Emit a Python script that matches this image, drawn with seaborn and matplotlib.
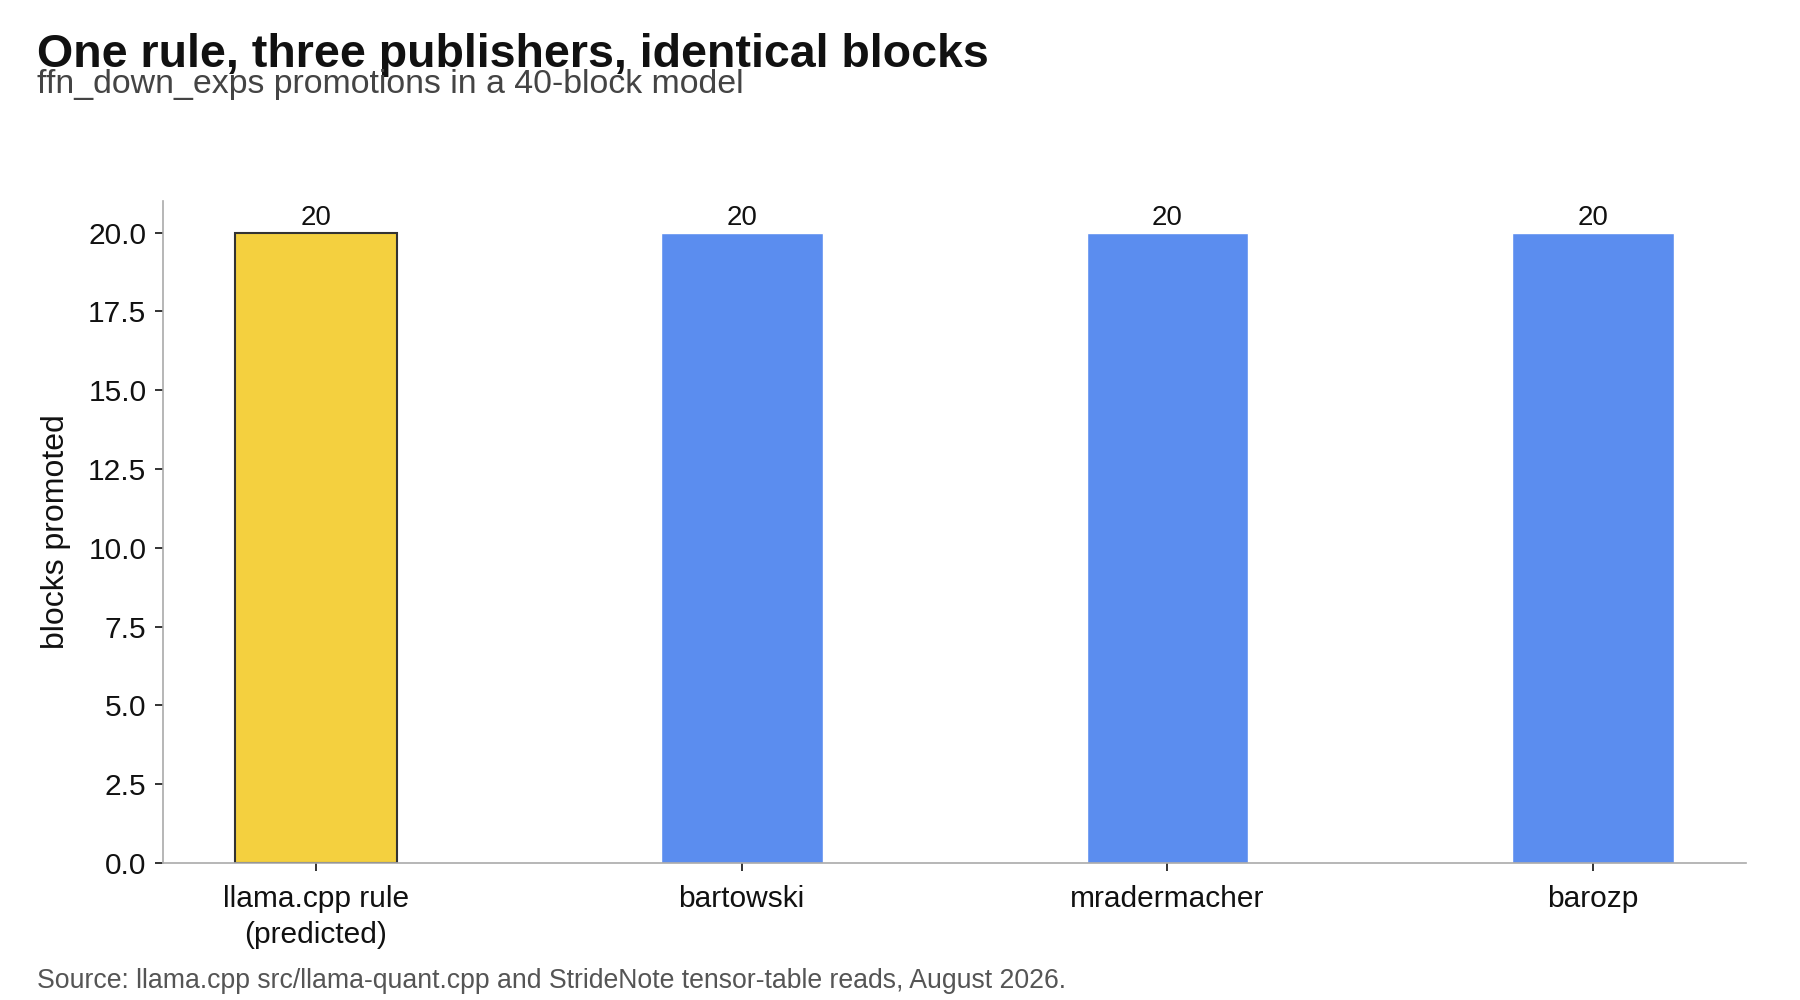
import matplotlib
matplotlib.use('Agg')
import matplotlib.pyplot as plt
import seaborn as sns
import pandas as pd

# 数据
categories = ['llama.cpp rule\n(predicted)', 'bartowski', 'mradermacher', 'barozp']
blocks_promoted = [20, 20, 20, 20]
bar_colors = ['#F4D03F', '#5B8DEF', '#5B8DEF', '#5B8DEF']

df = pd.DataFrame({'source': categories, 'blocks': blocks_promoted})

sns.set_theme(style='white')
plt.rcParams['font.family'] = ['Liberation Sans', 'DejaVu Sans']

fig = plt.figure(figsize=(18, 10), dpi=100)
ax = fig.add_axes([0.0906, 0.137, 0.8794, 0.662])

bar_w = 0.38
sns.barplot(data=df, x='source', y='blocks', hue='source',
            palette=bar_colors, width=bar_w, legend=False, ax=ax, saturation=1)

# 第一根柱子加深色描边
ax.patches[0].set_edgecolor('#333333')
ax.patches[0].set_linewidth(1.5)

for c in ax.containers:
    ax.bar_label(c, fmt='%d', fontsize=20, padding=1, color='#111111')

# x 方向留 5% 边距（matplotlib 默认样式）
span = (len(categories) - 1) + bar_w
ax.set_xlim(-bar_w / 2 - 0.05 * span, len(categories) - 1 + bar_w / 2 + 0.05 * span)
ax.set_ylim(0, 21)

ax.set_yticks([0, 2.5, 5, 7.5, 10, 12.5, 15, 17.5, 20])
ax.set_yticklabels([f'{v:.1f}' for v in ax.get_yticks()])
ax.tick_params(axis='both', labelsize=21.5, colors='#111111', length=6, width=1.2,
               left=True, bottom=True, pad=6)
ax.tick_params(axis='x', pad=10)
for lbl in ax.get_xticklabels():
    lbl.set_linespacing(1.35)
ax.set_xlabel('')
ax.set_ylabel('blocks promoted', fontsize=23, color='#111111', labelpad=12)

sns.despine(ax=ax)
for s in ['left', 'bottom']:
    ax.spines[s].set_color('#aaaaaa')
    ax.spines[s].set_linewidth(1.2)

fig.text(0.0205, 0.945, 'One rule, three publishers, identical blocks',
         fontsize=33.5, fontweight='bold', color='#111111', va='center', ha='left')
fig.text(0.0205, 0.916, 'ffn_down_exps promotions in a 40-block model',
         fontsize=24.4, color='#444444', va='center', ha='left')
fig.text(0.0205, 0.019, 'Source: llama.cpp src/llama-quant.cpp and StrideNote tensor-table reads, August 2026.',
         fontsize=19.2, color='#555555', va='center', ha='left')

fig.savefig('out.png', dpi=100)
